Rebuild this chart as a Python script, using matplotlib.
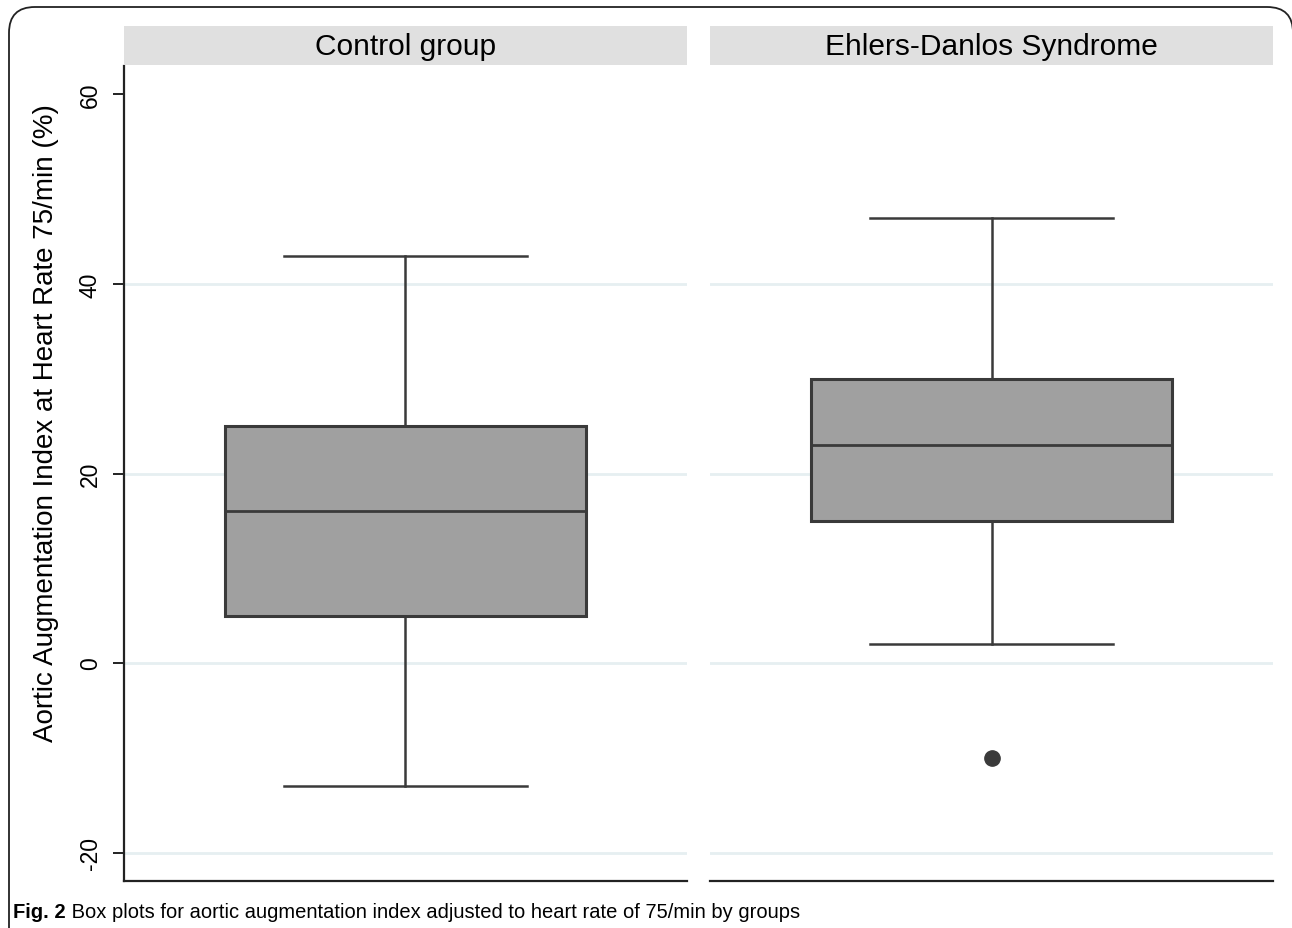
import matplotlib
matplotlib.use("Agg")
import matplotlib.pyplot as plt
from matplotlib.patches import FancyBboxPatch, Rectangle

# ---- data ----
groups = ["Control group", "Ehlers-Danlos Syndrome"]
whisker_low = [-13, 2]
q1 = [5, 15]
medians = [16, 23]
q3 = [25, 30]
whisker_high = [43, 47]
outliers = [[], [-10]]
yticks = [-20, 0, 20, 40, 60]
grid_vals = [-20, 0, 20, 40]
ylabel = "Aortic Augmentation Index at Heart Rate 75/min (%)"
caption_bold = "Fig. 2"
caption_text = " Box plots for aortic augmentation index adjusted to heart rate of 75/min by groups"

W, H = 1292, 929
fig = plt.figure(figsize=(W / 100, H / 100), dpi=100)
plt.rcParams['font.family'] = ['Liberation Sans', 'DejaVu Sans']

def fx(px):
    return px / W

def fy(py):
    return 1 - py / H

line_col = "#3a3a3a"
box_fill = "#a0a0a0"
grid_col = "#e6eff1"

panel_x = [124, 710]
panel_w = 563
top, bottom = 67, 882

axes = []
for i, g in enumerate(groups):
    ax = fig.add_axes([fx(panel_x[i]), fy(bottom), fx(panel_w), (bottom - top) / H])
    axes.append(ax)
    ax.set_xlim(-0.5, 0.5)
    ax.set_ylim(-23, 63)
    for gv in grid_vals:
        ax.axhline(gv, color=grid_col, lw=2, zorder=0)
    stats = [dict(whislo=whisker_low[i], q1=q1[i], med=medians[i], q3=q3[i],
                  whishi=whisker_high[i], fliers=outliers[i])]
    ax.bxp(stats, positions=[0], widths=0.64, patch_artist=True,
           boxprops=dict(facecolor=box_fill, edgecolor=line_col, linewidth=2.2),
           medianprops=dict(color=line_col, linewidth=2.0),
           whiskerprops=dict(color=line_col, linewidth=1.8),
           capprops=dict(color=line_col, linewidth=1.8),
           capwidths=0.43,
           flierprops=dict(marker='o', markersize=11, markerfacecolor=line_col,
                           markeredgecolor=line_col),
           zorder=3)
    ax.set_xticks([])
    for s in ["top", "right"]:
        ax.spines[s].set_visible(False)
    ax.spines["bottom"].set_color("#222222")
    ax.spines["bottom"].set_linewidth(1.6)
    if i == 0:
        ax.spines["left"].set_color("#222222")
        ax.spines["left"].set_linewidth(1.6)
        ax.set_yticks(yticks)
        ax.set_yticklabels([str(v) for v in yticks], rotation=90, va="center",
                           fontsize=16.5)
        ax.tick_params(axis="y", length=8, width=1.4, color="#222222", pad=8)
        ax.set_ylabel(ylabel, fontsize=20)
    else:
        ax.spines["left"].set_visible(False)
        ax.set_yticks([])
    # strip header
    fig.patches.append(Rectangle((fx(panel_x[i]), fy(66)), fx(panel_w), 39 / H,
                                 transform=fig.transFigure, facecolor="#e0e0e0",
                                 edgecolor="none"))
    fig.text(fx(panel_x[i] + panel_w / 2), fy(47), g, ha="center", va="center",
             fontsize=21.5)

axes[0].yaxis.set_label_coords(-0.116, 0.563)

# outer rounded frame
frame = FancyBboxPatch((fx(9), fy(960)), fx(1284), (960 - 8) / H,
                       boxstyle="round,pad=0,rounding_size=0.02",
                       transform=fig.transFigure, facecolor="none",
                       edgecolor="#222222", linewidth=1.3, mutation_aspect=W / H)
fig.patches.append(frame)

# caption
cap_font = ['Liberation Sans Narrow', 'Liberation Sans', 'DejaVu Sans']
t1 = fig.text(fx(13), fy(913), caption_bold, fontsize=14.5, fontweight="bold",
              family=cap_font, ha="left", va="center")
fig.canvas.draw()
bb = t1.get_window_extent()
fig.text(bb.x1 / W, fy(913), caption_text, fontsize=14.5, family=cap_font,
         ha="left", va="center")

fig.savefig("out.png", dpi=100)
